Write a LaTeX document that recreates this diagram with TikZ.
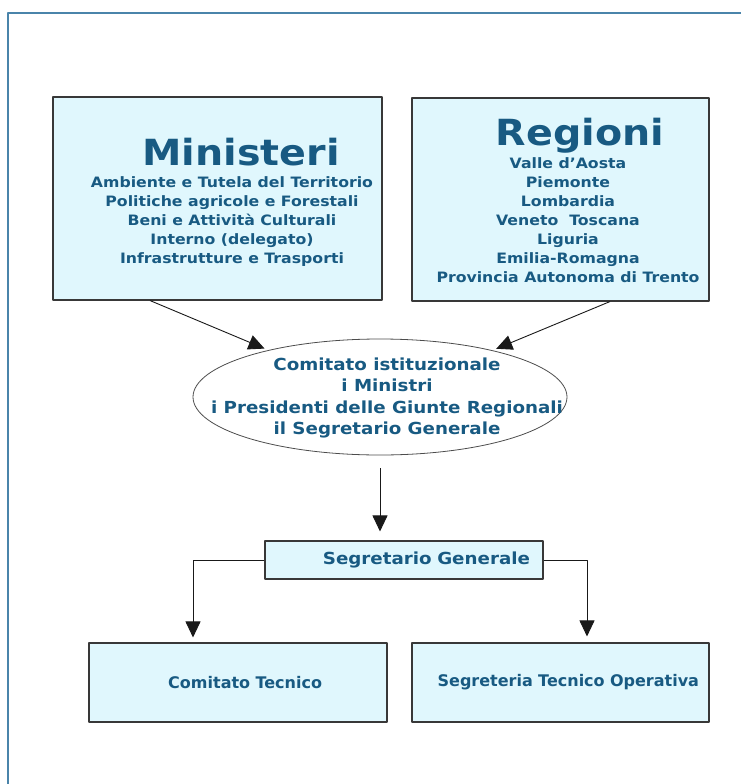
\documentclass[tikz,border=0pt]{standalone}
\usepackage{fontspec}
\newfontfamily\verd[FakeStretch=1.1]{DejaVu Sans}
\newfontfamily\tahom{DejaVu Sans}
\usetikzlibrary{arrows.meta,shapes.geometric}
\definecolor{testo}{RGB}{24,90,130}
\definecolor{celeste}{RGB}{224,247,253}
\definecolor{cornice}{RGB}{74,132,170}
\begin{document}
\begin{tikzpicture}[x=1pt, y=-1pt, line join=round, >={Triangle[width=15pt,length=16pt]},
  box/.style={draw=black!78, line width=1.1pt, fill=celeste, inner sep=0pt},
  titolo/.style={text=testo, inner sep=0pt, font=\verd\bfseries\fontsize{36}{40}\selectfont},
  lista/.style={text=testo, inner sep=0pt, align=center, font=\verd\bfseries\fontsize{14.3}{19}\selectfont},
  ovale/.style={text=testo, inner sep=0pt, align=center, font=\verd\bfseries\fontsize{16.6}{21.4}\selectfont},
  freccia/.style={->, draw=black!90, line width=0.9pt}]
\useasboundingbox (0,0) rectangle (741,784);
\draw[cornice, line width=1.3pt] (8,784) -- (8,13) -- (741,13);

% i due gruppi in alto
\node[box, minimum width=329pt, minimum height=203pt] (min) at (217.5,198.5) {};
\node[titolo, anchor=base] (mintit) at (241,165) {Ministeri};
\node[lista, anchor=north] (minlist) at (232,176) {Ambiente e Tutela del Territorio\\
  Politiche agricole e Forestali\\ Beni e Attività Culturali\\ Interno (delegato)\\
  Infrastrutture e Trasporti};
\node[box, minimum width=297pt, minimum height=203pt] (reg) at (560.5,199.5) {};
\node[titolo, anchor=base] (regtit) at (580,145) {Regioni};
\node[lista, anchor=north] (reglist) at (568,157) {Valle d’Aosta\\ Piemonte\\ Lombardia\\
  Veneto\ \ Toscana\\ Liguria\\ Emilia-Romagna\\ Provincia Autonoma di Trento};

% comitato istituzionale
\node[draw=black!70, line width=0.8pt, ellipse, minimum width=374pt, minimum height=116pt, inner sep=0pt] (ell) at (380,397) {};
\node[ovale] (elltxt) at (387,398) {Comitato istituzionale\\ i Ministri\\
  i Presidenti delle Giunte Regionali\\ il Segretario Generale};

\node[box, minimum height=38pt, text width=252pt, align=right, inner xsep=13pt, text=testo,
  font=\verd\bfseries\fontsize{16.6}{20}\selectfont] (sg) at (404,560) {Segretario Generale};

\node[box, minimum width=298pt, minimum height=79pt, text=testo, text width=168pt, align=right, inner xsep=65pt,
  font=\tahom\bfseries\fontsize{16}{18}\selectfont] (ct) at (238,682.5) {Comitato Tecnico};
\node[box, minimum width=297pt, minimum height=79pt, text=testo, text width=277pt, align=right, inner xsep=10pt,
  font=\tahom\bfseries\fontsize{16}{18}\selectfont] (sto) at (560.5,682.5) {Segreteria Tecnico Operativa};

\draw[freccia, shorten >=4pt] ([xshift=-67.5pt]min.south) -- (ell);
\draw[freccia, shorten >=4pt] ([xshift=49.5pt]reg.south) -- (ell);
\draw[freccia, shorten <=13pt, shorten >=9pt] (ell.south) -- (ell.south |- sg.north);
\draw[freccia, shorten >=5pt] (sg.west) -| ([xshift=-45pt]ct.north);
\draw[freccia, shorten >=6pt] (sg.east) -| ([xshift=26.5pt]sto.north);
\end{tikzpicture}
\end{document}
